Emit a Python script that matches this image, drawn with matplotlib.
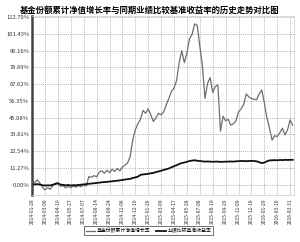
import matplotlib
matplotlib.use("Agg")
import matplotlib.pyplot as plt

plt.rcParams['font.family'] = ['Noto Sans CJK SC', 'DejaVu Sans']

tick_dates = ["2014-01-28", "2014-03-06", "2014-04-16", "2014-05-27", "2014-07-07",
              "2014-08-14", "2014-09-24", "2014-11-06", "2014-12-16", "2015-01-26",
              "2015-03-09", "2015-04-17", "2015-05-28", "2015-07-08", "2015-08-18",
              "2015-09-29", "2015-11-09", "2015-12-18", "2016-01-29", "2016-03-10",
              "2016-03-31"]

fund = [0, 1.5, 3.4, 1.2, -1.5, -3.4, -1.8, -3.0, -0.5, 1.0,
        1.5, -1.0, -0.5, -2.0, -1.0, -1.8, -0.8, -1.5, -0.6, -1.2,
        0.3, -0.8, 5.6, 5.0, 6.2, 5.4, 8.5, 9.5, 7.8, 9.8,
        8.2, 10.5, 9.0, 11.0, 9.4, 12.0, 13.2, 14.7, 19.0, 30.0,
        37.0, 41.0, 44.0, 50.0, 48.0, 51.0, 47.0, 42.5, 45.0, 48.0,
        47.0, 49.0, 53.7, 58.0, 62.6, 65.0, 70.0, 82.0, 90.0, 82.0,
        88.5, 98.0, 101.0, 108.0, 107.0, 93.0, 80.0, 58.0, 68.0, 72.0,
        62.0, 66.0, 67.0, 36.0, 46.0, 43.0, 44.0, 40.0, 41.0, 43.0,
        49.0, 51.0, 54.0, 61.0, 59.0, 58.0, 57.5, 57.0, 61.0, 63.7,
        55.0, 45.0, 38.0, 30.0, 33.0, 32.4, 35.0, 38.0, 33.5, 37.0,
        43.6, 40.0]

benchmark = [0, 0.3, 0.5, 0.2, -0.2, -0.5, -0.3, -0.4, 0.1, 0.6,
             1.0, 0.2, 0.0, -0.3, -0.1, -0.4, -0.2, -0.3, 0.0, 0.1,
             0.3, 0.5, 0.7, 0.9, 1.1, 1.3, 1.5, 1.7, 1.9, 2.0,
             2.2, 2.4, 2.6, 2.8, 3.0, 3.3, 3.6, 3.8, 4.0, 4.6,
             5.0, 5.5, 6.7, 7.0, 7.2, 7.4, 7.8, 8.0, 8.6, 9.0,
             9.5, 10.0, 10.5, 11.0, 11.8, 12.5, 13.2, 14.0, 14.6, 15.0,
             15.5, 16.0, 16.3, 16.5, 16.2, 16.0, 15.8, 15.6, 15.7, 15.6,
             15.5, 15.6, 15.6, 15.4, 15.5, 15.6, 15.6, 15.7, 15.6, 15.8,
             15.9, 16.0, 16.0, 15.9, 16.0, 16.1, 16.0, 15.8, 15.2, 14.6,
             15.0, 15.8, 16.4, 16.5, 16.6, 16.5, 16.7, 16.6, 16.8, 16.7,
             16.8, 16.8]

y_ticks = [0.00, 11.27, 22.54, 33.81, 45.08, 56.35, 67.62, 78.89, 90.16, 101.43, 112.70]

fig = plt.figure(figsize=(3.0, 2.42), dpi=100)
ax = fig.add_axes([0.107, 0.193, 0.873, 0.742])

x = list(range(len(fund)))
ax.plot(x, fund, color='#6e6e6e', linewidth=0.9, label='基金份额累计净值增长率')
ax.plot(x, benchmark, color='#111111', linewidth=1.3, label='业绩比较基准收益率')

ax.set_xlim(0, 101.5)
ax.set_ylim(-7, 113.5)
ax.set_yticks(y_ticks)
ax.set_yticklabels(['%.2f%%' % v for v in y_ticks], fontsize=4.2, color='#333333')
ax.set_xticks(list(range(0, 5 * len(tick_dates), 5)))
ax.set_xticklabels(tick_dates, rotation=90, fontsize=3.6, color='#333333')
ax.tick_params(axis='both', length=0, pad=2)

ax.grid(True, linestyle=(0, (1.5, 1.5)), color='#9a9a9a', linewidth=0.5)
for side in ['top', 'right', 'bottom']:
    ax.spines[side].set_color('#cccccc')
    ax.spines[side].set_linewidth(0.5)
ax.spines['left'].set_color('#444444')
ax.spines['left'].set_linewidth(1.8)

fig.suptitle('基金份额累计净值增长率与同期业绩比较基准收益率的历史走势对比图',
             fontsize=6, fontweight='bold', y=0.975)

leg = fig.legend(loc='center', bbox_to_anchor=(0.495, 0.047), ncol=2, fontsize=3.5,
                 frameon=True, fancybox=False, edgecolor='#333333',
                 handlelength=2.0, columnspacing=1.0, handletextpad=0.4,
                 borderpad=0.4)
leg.get_frame().set_linewidth(0.6)

fig.savefig('out.png', dpi=100)
